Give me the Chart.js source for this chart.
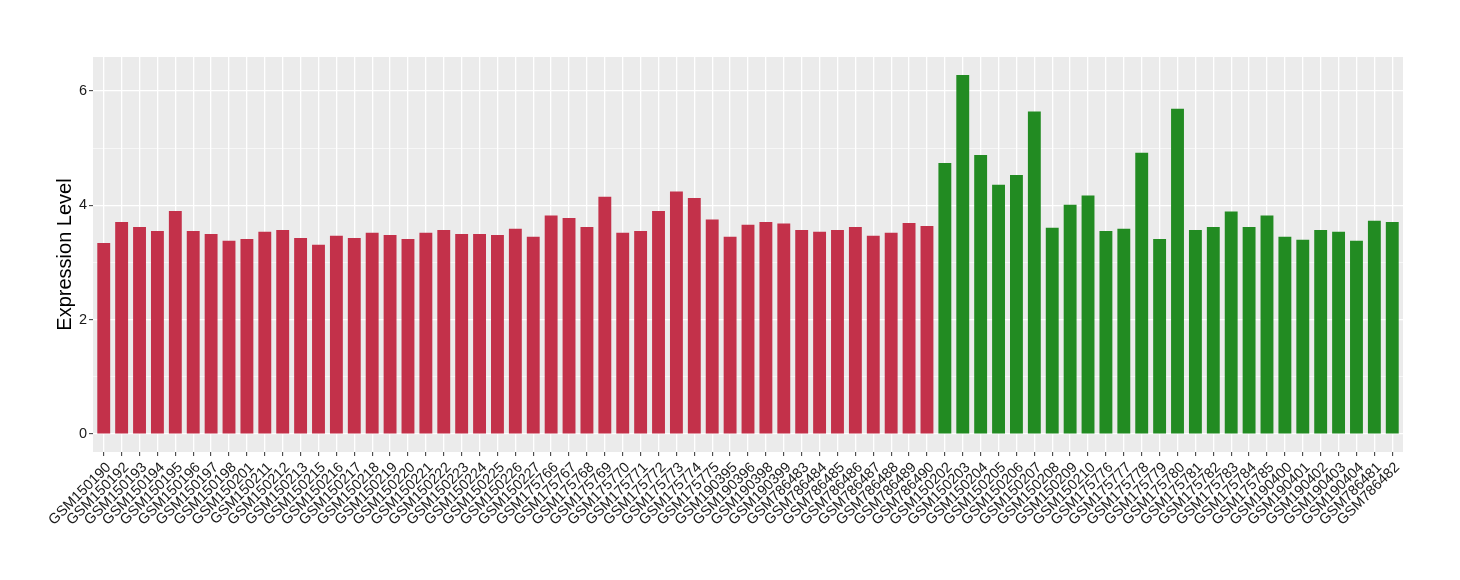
<!DOCTYPE html>
<html lang="en">
<head>
<meta charset="UTF-8">
<title>Expression Level</title>
<script src="https://cdn.jsdelivr.net/npm/chart.js@4"></script>
<style>
  html, body { margin: 0; padding: 0; background: #fff; }
  #wrap { width: 1460px; height: 580px; }
</style>
</head>
<body>
<div id="wrap"><canvas id="chart"></canvas></div>
<script>
// samples in the first group (red)
const groupALabels = [
  'GSM150190', 'GSM150192', 'GSM150193', 'GSM150194', 'GSM150195', 'GSM150196',
  'GSM150197', 'GSM150198', 'GSM150201', 'GSM150211', 'GSM150212', 'GSM150213',
  'GSM150215', 'GSM150216', 'GSM150217', 'GSM150218', 'GSM150219', 'GSM150220',
  'GSM150221', 'GSM150222', 'GSM150223', 'GSM150224', 'GSM150225', 'GSM150226',
  'GSM150227', 'GSM175766', 'GSM175767', 'GSM175768', 'GSM175769', 'GSM175770',
  'GSM175771', 'GSM175772', 'GSM175773', 'GSM175774', 'GSM175775', 'GSM190395',
  'GSM190396', 'GSM190398', 'GSM190399', 'GSM786483', 'GSM786484', 'GSM786485',
  'GSM786486', 'GSM786487', 'GSM786488', 'GSM786489', 'GSM786490'
];
const groupAValues = [
  3.34, 3.71, 3.62, 3.55, 3.90, 3.55, 3.50, 3.38, 3.41, 3.54, 3.57, 3.43,
  3.31, 3.47, 3.43, 3.52, 3.48, 3.41, 3.52, 3.57, 3.50, 3.50, 3.48, 3.59,
  3.45, 3.82, 3.78, 3.62, 4.15, 3.52, 3.55, 3.90, 4.24, 4.13, 3.75, 3.45,
  3.66, 3.71, 3.68, 3.57, 3.54, 3.57, 3.62, 3.47, 3.52, 3.69, 3.64
];

// samples in the second group (green)
const groupBLabels = [
  'GSM150202', 'GSM150203', 'GSM150204', 'GSM150205', 'GSM150206', 'GSM150207',
  'GSM150208', 'GSM150209', 'GSM150210', 'GSM175776', 'GSM175777', 'GSM175778',
  'GSM175779', 'GSM175780', 'GSM175781', 'GSM175782', 'GSM175783', 'GSM175784',
  'GSM175785', 'GSM190400', 'GSM190401', 'GSM190402', 'GSM190403', 'GSM190404',
  'GSM786481', 'GSM786482'
];
const groupBValues = [
  4.74, 6.28, 4.88, 4.36, 4.53, 5.64, 3.61, 4.01, 4.17, 3.55, 3.59, 4.92,
  3.41, 5.69, 3.57, 3.62, 3.89, 3.62, 3.82, 3.45, 3.40, 3.57, 3.54, 3.38,
  3.73, 3.71
];

const yTicks = [0, 1, 2, 3, 4, 5, 6];
const yLabelTicks = [0, 2, 4, 6];

const colorA = '#C3314A';
const colorB = '#228B22';

const allLabels = groupALabels.concat(groupBLabels);
const allValues = groupAValues.concat(groupBValues);
const points = allValues.map((v, i) => ({ x: i, y: v }));
const colors = allValues.map((v, i) => i < groupALabels.length ? colorA : colorB);

// ggplot-style padding: 0.6 of a category on each side, 5% on y
const yMax = Math.max(...allValues);
const yPad = yMax * 0.05;

const panelBg = {
  id: 'panelBg',
  beforeDraw(chart) {
    const { ctx, chartArea: a } = chart;
    ctx.save();
    ctx.fillStyle = '#EBEBEB';
    ctx.fillRect(a.left, a.top, a.right - a.left, a.bottom - a.top);
    ctx.restore();
  }
};

new Chart(document.getElementById('chart'), {
  type: 'bar',
  data: {
    datasets: [{
      data: points,
      backgroundColor: colors,
      borderWidth: 0,
      barPercentage: 0.72,
      categoryPercentage: 1
    }]
  },
  options: {
    responsive: true,
    maintainAspectRatio: false,
    animation: false,
    layout: { padding: { left: 0, right: 57, top: 57, bottom: 0 } },
    plugins: {
      legend: { display: false },
      tooltip: { enabled: false }
    },
    scales: {
      x: {
        type: 'linear',
        offset: false,
        min: -0.6,
        max: allLabels.length - 1 + 0.6,
        afterBuildTicks(scale) {
          scale.ticks = allLabels.map((l, i) => ({ value: i }));
        },
        afterFit(scale) { scale.height = 128; },
        border: { display: false },
        grid: {
          offset: false,
          color: '#FFFFFF',
          lineWidth: 1.3,
          tickLength: 4,
          tickColor: '#333333',
          tickWidth: 1
        },
        ticks: {
          autoSkip: false,
          maxRotation: 45,
          minRotation: 45,
          padding: 3,
          labelOffset: 5,
          color: '#1A1A1A',
          font: { family: 'Liberation Sans', size: 14.5 },
          callback: (v) => allLabels[v]
        }
      },
      y: {
        min: -yPad,
        max: yMax + yPad,
        afterBuildTicks(scale) {
          scale.ticks = yTicks.map(v => ({ value: v }));
        },
        afterFit(scale) { scale.width = 93; },
        border: { display: false },
        grid: {
          color: '#FFFFFF',
          lineWidth: (ctx) => (ctx.tick && yLabelTicks.includes(ctx.tick.value)) ? 1.3 : 0.6,
          tickLength: 4,
          tickColor: (ctx) => (ctx.tick && yLabelTicks.includes(ctx.tick.value)) ? '#333333' : 'rgba(0,0,0,0)',
          tickWidth: 1
        },
        ticks: {
          padding: 2,
          color: '#1A1A1A',
          font: { family: 'Liberation Sans', size: 14.5 },
          callback: (v) => yLabelTicks.includes(v) ? String(v) : ''
        },
        title: {
          display: true,
          text: 'Expression Level',
          color: '#000000',
          font: { family: 'Liberation Sans', size: 20, lineHeight: 1.2 },
          padding: { top: 53, bottom: 0 }
        }
      }
    }
  },
  plugins: [panelBg]
});
</script>
</body>
</html>
